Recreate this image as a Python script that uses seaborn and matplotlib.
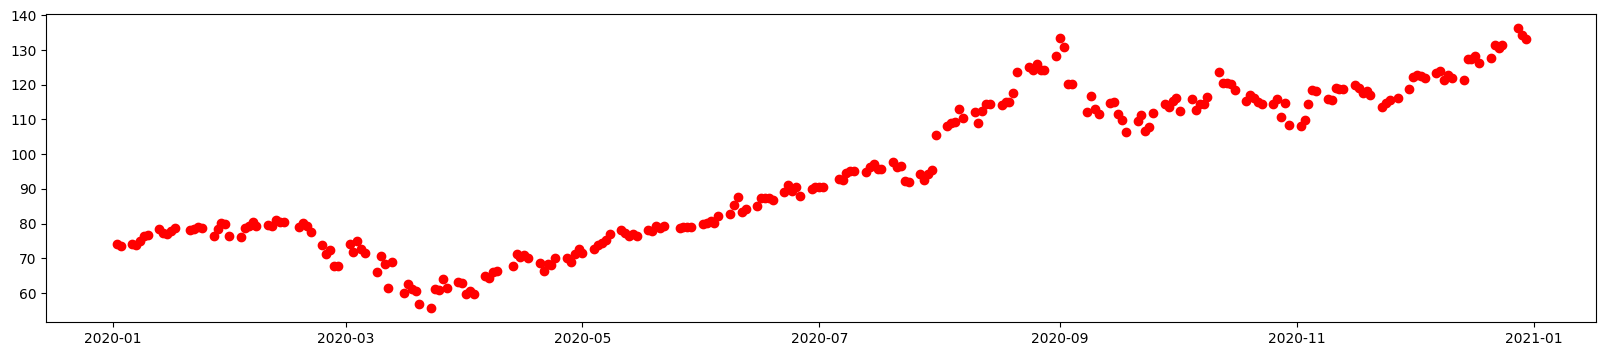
import matplotlib
matplotlib.use("Agg")
import matplotlib.pyplot as plt
import seaborn as sns
import pandas as pd
import numpy as np

# Trading days of 2020 (Jan 2 .. Dec 30), NYSE holidays excluded
holidays = ["2020-01-20", "2020-02-17", "2020-04-10", "2020-05-25",
            "2020-07-03", "2020-09-07", "2020-11-26", "2020-12-25"]
dates = pd.bdate_range("2020-01-02", "2020-12-30", freq="C", holidays=holidays)

jan = [74.19, 73.47, 74.05, 73.70, 74.89, 76.48, 76.65, 78.29, 77.23, 76.90, 77.86,
       78.72, 78.19, 78.48, 78.85, 78.62, 76.31, 78.47, 80.11, 80.00, 76.45]
feb = [76.24, 78.75, 79.40, 80.32, 79.25, 79.63, 79.14, 81.02, 80.45, 80.47, 78.99,
       80.13, 79.31, 77.52, 73.83, 71.34, 72.47, 67.73, 67.69]
mar = [73.99, 71.64, 74.96, 72.53, 71.57, 65.91, 70.65, 68.21, 61.47, 68.83, 59.97,
       62.62, 61.08, 60.62, 56.77, 55.56, 61.13, 60.80, 64.00, 61.35, 63.09, 62.97]
apr = [59.66, 60.65, 59.78, 65.00, 64.24, 65.89, 66.36, 67.66, 71.08, 70.43, 70.99,
       70.03, 68.57, 66.45, 68.37, 68.11, 70.07, 70.12, 68.98, 71.25, 72.75]
may = [71.58, 72.59, 73.68, 74.45, 75.21, 76.99, 78.20, 77.31, 76.37, 76.85, 76.39,
       78.19, 77.74, 79.25, 78.66, 79.16, 78.63, 78.97, 79.00, 78.93]
jun = [79.90, 80.26, 80.71, 80.02, 82.30, 82.78, 85.39, 87.59, 83.38, 84.11, 85.15,
       87.40, 87.28, 87.31, 86.82, 89.09, 90.99, 89.38, 90.57, 87.79, 89.82, 90.56]
jul = [90.39, 90.39, 92.81, 92.52, 94.67, 95.08, 95.25, 94.81, 96.38, 97.04, 95.84,
       95.66, 97.67, 96.32, 96.59, 92.20, 91.96, 94.15, 92.60, 94.37, 95.52, 105.52]
aug = [108.18, 108.90, 109.29, 113.10, 110.55, 112.17, 108.83, 112.45, 114.44, 114.34,
       114.04, 114.98, 115.13, 117.69, 123.75, 125.23, 124.21, 125.89, 124.39, 124.19, 128.40]
sep = [133.51, 130.74, 120.28, 120.36, 112.26, 116.73, 112.92, 111.44, 114.78, 114.96,
       111.57, 109.79, 106.31, 109.53, 111.25, 106.58, 107.68, 111.72, 114.39, 113.52, 115.23]
oct_ = [116.21, 112.46, 115.92, 112.59, 114.50, 114.40, 116.39, 123.78, 120.49, 120.58,
        120.11, 118.42, 115.40, 116.92, 116.29, 115.17, 114.47, 114.47, 116.02, 110.64,
        114.74, 108.32]
nov = [108.23, 109.89, 114.38, 118.43, 118.33, 115.97, 115.62, 119.13, 118.85, 118.90,
       119.94, 119.03, 117.68, 118.28, 116.99, 113.51, 114.82, 115.68, 116.24, 118.69]
dec = [122.35, 122.71, 122.57, 121.88, 123.38, 124.01, 121.41, 122.87, 122.04, 121.41,
       127.50, 127.43, 128.31, 126.28, 127.85, 131.48, 130.57, 131.57, 136.28, 134.47, 133.32]

close = jan + feb + mar + apr + may + jun + jul + aug + sep + oct_ + nov + dec
n = min(len(dates), len(close))
df = pd.DataFrame({"date": dates[:n], "close": close[:n]})

fig, ax = plt.subplots(figsize=(20, 4), dpi=100)
sns.scatterplot(data=df, x="date", y="close", ax=ax, color="red",
                edgecolor="red", linewidth=1.0, s=36)
ax.set_xlabel("")
ax.set_ylabel("")
fig.savefig("out.png", dpi=100, bbox_inches="tight")
